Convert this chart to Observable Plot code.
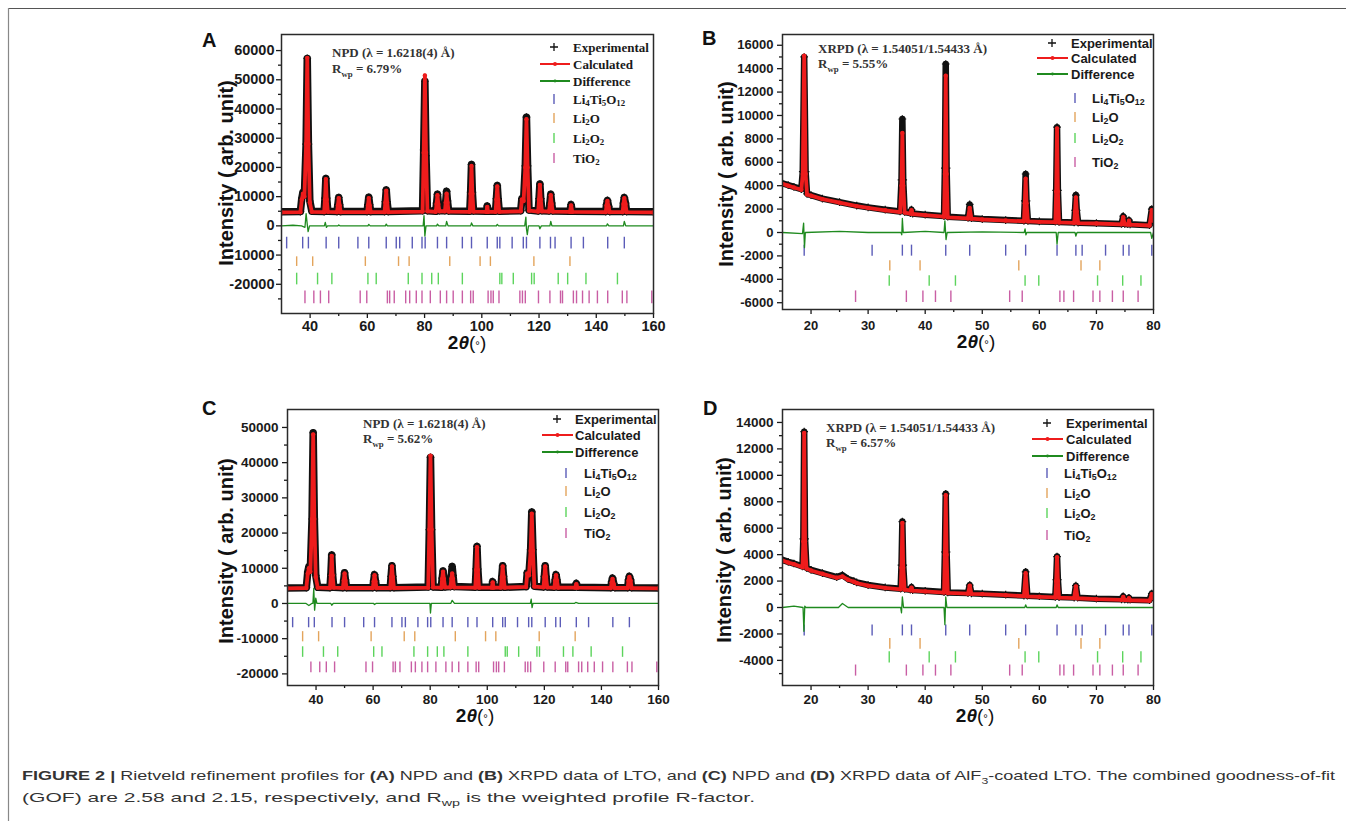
<!DOCTYPE html>
<html><head><meta charset="utf-8">
<script src="https://cdn.jsdelivr.net/npm/d3@7"></script>
<script src="https://cdn.jsdelivr.net/npm/@observablehq/plot@0.6"></script>
<style>
html,body{margin:0;padding:0;background:#fff;}
#fig{position:relative;width:1346px;height:821px;overflow:hidden;background:#fff;}
</style></head><body><div id="fig"></div>
<script>
// ---------- Bragg reflection positions (2θ, degrees) ----------
const npdLTO = [31.8, 37.4, 39.4, 45.6, 50.0, 56.7, 60.5, 66.6, 70.1, 71.3, 75.7, 79.1, 80.2, 84.5, 87.7, 93.2, 96.4, 101.9, 105.4, 106.3, 110.6, 114.5, 115.6, 120.3, 124.0, 125.6, 131.2, 135.5, 144.0, 149.8];
const npdLi2O = [35.3, 40.9, 59.3, 70.9, 74.6, 88.8, 99.4, 103.0, 118.2, 130.8];
const npdLi2O2 = [35.3, 42.6, 47.6, 60.2, 63.1, 74.3, 79.1, 82.5, 84.8, 93.2, 106.3, 107.0, 111.0, 117.4, 118.3, 126.7, 130.0, 136.4, 147.4];
const npdTiO2 = [38.2, 41.3, 43.6, 46.5, 57.5, 59.8, 67.0, 67.8, 69.4, 73.4, 74.8, 77.1, 79.1, 82.0, 85.5, 87.7, 90.0, 93.2, 96.1, 97.0, 102.2, 103.2, 104.0, 106.0, 113.3, 114.2, 115.2, 119.8, 123.8, 127.5, 128.2, 132.0, 133.1, 135.2, 137.5, 140.4, 144.0, 149.1, 150.7, 159.4];
const xrdLTO = [18.8, 30.7, 36.0, 37.6, 43.6, 47.8, 54.1, 57.6, 63.1, 66.4, 67.5, 71.6, 74.7, 75.7, 79.7];
const xrdLi2O = [33.8, 39.1, 56.4, 67.3, 70.6];
const xrdLi2O2 = [33.7, 40.7, 45.3, 57.5, 59.9, 70.2, 74.6, 77.8];
const xrdTiO2 = [27.8, 36.7, 39.6, 41.8, 44.5, 54.8, 57.0, 63.6, 64.3, 66.0, 69.4, 70.6, 72.8, 74.7, 77.3];

const phaseNames = ["Li4Ti5O12", "Li2O", "Li2O2", "TiO2"];
const phaseColors = ["#5b5cb8", "#e3a45c", "#5cd45c", "#c95ea4"];

// ---------- profiles: [2θ, calculated, experimental] ----------
const profileA = [
 [30,4600,4800],[36.6,4700,4900],[37.1,9000,9500],[37.5,11000,11500],[38.0,10000,10500],[38.6,28000,28000],[39.0,57500,57300],[39.4,28000,28000],[39.9,8000,8500],[40.6,4800,5000],
 [44.9,4700,4900],[45.2,9000,9500],[45.5,16000,16200],[45.8,9000,9500],[46.2,4800,5000],
 [49.4,4700,4900],[49.7,7000,7300],[50.0,9500,9700],[50.3,7000,7300],[50.7,4700,4900],
 [59.9,4700,4900],[60.2,7000,7300],[60.5,9500,9800],[60.8,7000,7300],[61.2,4700,4900],
 [66.0,4700,4900],[66.3,8000,8300],[66.6,12000,12300],[66.9,8000,8300],[67.3,4700,4900],
 [79.3,4900,5200],[79.7,25000,26000],[80.1,51500,49500],[80.5,25000,24000],[81.0,5000,5200],
 [83.9,4800,5000],[84.2,7500,7800],[84.5,10500,10800],[84.8,7500,7800],[85.2,5000,5200],
 [87.1,5000,5200],[87.4,8000,8500],[87.7,11000,11800],[88.0,8000,8500],[88.4,4900,5100],
 [95.8,4800,5000],[96.1,11000,11500],[96.4,20500,21000],[96.7,11000,11500],[97.1,4900,5100],
 [101.6,4800,5000],[101.9,6500,6800],[102.2,4800,5000],
 [104.8,4800,5000],[105.1,9000,9300],[105.4,13500,13800],[105.7,9000,9300],[106.1,4800,5000],
 [113.6,5000,5200],[114.0,9000,9300],[114.6,8500,8800],[115.2,20000,20500],[115.6,36500,37200],[116.0,20000,20500],[116.5,5200,5400],
 [119.7,4900,5100],[120.0,9000,9300],[120.3,14000,14300],[120.6,9000,9300],[121.0,5000,5200],
 [123.5,4900,5100],[123.8,7500,7800],[124.1,10500,10800],[124.4,7500,7800],[124.8,4900,5100],
 [130.8,4800,5000],[131.2,7000,7300],[131.6,4800,5000],
 [143.3,4700,4900],[143.6,7000,7300],[143.9,8500,8700],[144.3,6500,6700],[144.7,4700,4900],
 [149.2,4700,4900],[149.5,7500,7800],[149.8,9500,9700],[150.2,7500,7800],[150.6,4700,4900],[160,4600,4800]
];
const profileB = [
 [15,4150,4200],[16,4000,4050],[17,3850,3900],[18.3,3650,3700],[18.55,5000,5200],[18.8,15100,15000],[19.05,5000,5200],[19.3,3250,3300],
 [20,3150,3200],[22,2850,2900],[25,2550,2600],[28,2250,2300],[30,2100,2150],[33,1900,1950],
 [35.6,1750,1800],[35.85,4000,4500],[36.0,8500,9700],[36.15,4000,4500],[36.4,1700,1750],
 [37.4,1620,1650],[37.6,1900,1950],[37.8,1580,1620],[40,1480,1520],
 [43.3,1350,1400],[43.45,5000,5500],[43.6,13400,14400],[43.75,5000,5500],[43.95,1300,1350],
 [47.5,1200,1250],[47.8,2100,2400],[48.1,1180,1220],[50,1110,1150],[54.1,1020,1060],
 [57.3,960,1000],[57.45,2500,2700],[57.6,4600,5000],[57.75,2500,2700],[58.0,950,990],[60,910,950],
 [62.8,880,920],[62.95,3500,3600],[63.1,8900,9000],[63.25,3500,3600],[63.45,860,900],
 [66.1,820,860],[66.25,1800,1900],[66.4,3000,3200],[66.55,1800,1900],[66.8,800,840],[70,770,800],
 [74.4,700,730],[74.7,1300,1400],[74.95,700,730],[75.5,680,710],[75.7,1000,1050],[75.9,670,700],
 [79.3,600,630],[79.7,1900,2000],[80,1000,1100]
];
const profileC = [
 [30,4300,4400],[36.6,4400,4500],[37.1,8500,9000],[37.5,10000,10500],[38.0,9000,9500],[38.6,24000,24000],[39.0,48000,48500],[39.4,24000,24000],[39.9,7500,8000],[40.6,4500,4600],
 [44.9,4400,4500],[45.2,8000,8300],[45.5,13500,13800],[45.8,8000,8300],[46.2,4500,4600],
 [49.4,4400,4500],[49.7,6500,6700],[50.0,8500,8700],[50.3,6500,6700],[50.7,4400,4500],
 [59.9,4400,4500],[60.2,6300,6500],[60.5,8000,8200],[60.8,6300,6500],[61.2,4400,4500],
 [66.0,4400,4500],[66.3,7500,7700],[66.6,10500,10700],[66.9,7500,7700],[67.3,4400,4500],
 [79.3,4500,4700],[79.7,21000,21000],[80.1,42000,41500],[80.5,21000,21000],[81.0,4600,4700],
 [83.9,4500,4600],[84.2,7000,7200],[84.5,9000,9200],[84.8,7000,7200],[85.2,4600,4700],
 [87.1,4600,4800],[87.4,7000,8000],[87.7,8500,10500],[88.0,7000,8000],[88.4,4600,4800],
 [95.8,4500,4600],[96.1,9500,9800],[96.4,16000,16200],[96.7,9500,9800],[97.1,4500,4600],
 [101.6,4500,4600],[101.9,6000,6200],[102.2,4500,4600],
 [104.8,4500,4600],[105.1,7500,7700],[105.4,10500,10700],[105.7,7500,7700],[106.1,4500,4600],
 [113.6,4700,4800],[114.0,8500,8700],[114.6,8000,8200],[115.2,15000,15300],[115.6,25500,26000],[116.0,15000,15300],[116.5,4800,4900],
 [119.7,4600,4700],[120.0,7500,7700],[120.3,10500,10700],[120.6,7500,7700],[121.0,4600,4700],
 [123.5,4500,4600],[123.8,6500,6700],[124.1,8000,8200],[124.4,6500,6700],[124.8,4500,4600],
 [130.8,4500,4600],[131.2,5500,5700],[131.6,4500,4600],
 [143.3,4400,4500],[143.6,6000,6200],[143.9,7000,7200],[144.3,5500,5700],[144.7,4400,4500],
 [149.2,4400,4500],[149.5,6500,6700],[149.8,7500,7700],[150.2,6500,6700],[150.6,4400,4500],[160,4300,4400]
];
const profileD = [
 [15,3550,3600],[16,3400,3450],[17,3280,3330],[18.5,3050,3100],[18.65,5000,5200],[18.8,13200,13300],[18.95,5000,5200],[19.2,2950,3000],
 [20,2800,2850],[22,2550,2600],[24.5,2250,2300],[25.5,2350,2450],[26.5,2100,2150],[27.5,1950,2000],[28,1850,1900],[30,1650,1700],[33,1480,1520],
 [35.7,1380,1420],[35.85,3000,3200],[36.0,6400,6500],[36.15,3000,3200],[36.4,1350,1400],
 [37.4,1300,1350],[37.6,1500,1550],[37.8,1280,1320],[40,1220,1260],
 [43.3,1130,1170],[43.45,4000,4200],[43.6,8500,8600],[43.75,4000,4200],[43.95,1100,1140],
 [47.5,1050,1090],[47.8,1650,1700],[48.1,1030,1070],[50,1010,1050],[54.1,930,970],
 [57.3,860,900],[57.6,2600,2700],[57.9,850,890],[60,810,850],
 [62.8,760,800],[62.95,2000,2100],[63.1,3800,3850],[63.25,2000,2100],[63.45,750,790],
 [66.1,710,750],[66.4,1600,1650],[66.7,700,740],[70,630,670],
 [74.4,580,620],[74.7,800,850],[74.95,570,610],[75.5,560,600],[75.7,700,740],[75.9,550,590],
 [79.3,510,550],[79.7,1000,1050],[80,700,750]
];

// ---------- difference curves: [2θ, obs − calc] ----------
const diffA = [[30,0],[34,200],[37,0],[38.2,-500],[38.6,4200],[39.0,500],[39.3,-2000],[39.8,0],[45.0,0],[45.3,1200],[45.7,-500],[46.1,0],[49.7,0],[50,300],[50.4,0],[60.2,0],[60.5,500],[61,0],[66.3,0],[66.6,600],[67,0],[79.5,0],[79.8,3500],[80.1,-3500],[80.5,0],[84.2,0],[84.5,600],[85,0],[87.4,0],[87.7,1500],[88.2,0],[96.1,0],[96.4,1000],[96.9,0],[105.1,0],[105.4,500],[105.9,0],[115.0,0],[115.4,3000],[115.6,-1000],[115.9,-3000],[116.3,0],[120.0,0],[120.3,-1000],[120.8,0],[123.8,0],[124.1,1500],[124.5,0],[143.6,0],[143.9,700],[144.4,0],[149.5,0],[149.8,1500],[150.3,0],[160,0]];
const diffB = [[15,0],[18.5,-100],[18.7,800],[18.85,-1300],[19.0,0],[25,100],[30,0],[35.75,0],[35.9,-200],[36.0,1200],[36.15,0],[40,100],[43.3,0],[43.45,1000],[43.65,-600],[43.85,0],[50,50],[57.35,0],[57.5,300],[57.65,-200],[57.8,0],[62.95,0],[63.1,-1000],[63.3,0],[66.25,0],[66.4,-300],[66.6,0],[79.5,0],[79.7,-500],[80,0]];
const diffC = [[30,0],[36.5,0],[37.5,-600],[38.5,0],[38.9,0],[39.2,4300],[39.5,-1900],[39.9,1500],[40.3,0],[45.2,0],[45.5,-500],[46,0],[60.2,0],[60.5,-300],[61,0],[79.9,0],[80.1,-2700],[80.4,0],[87.2,0],[87.7,900],[88.5,0],[115.1,0],[115.4,1200],[115.7,-1200],[116,0],[130.5,0],[131,300],[132,0],[160,0]];
const diffD = [[15,0],[17,100],[18.6,0],[18.75,-1800],[18.9,100],[19.1,0],[24.8,0],[25.5,300],[26.5,0],[35.7,0],[35.85,-400],[36.0,800],[36.2,0],[43.3,0],[43.45,-1300],[43.6,800],[43.8,0],[57.45,0],[57.6,200],[57.8,0],[62.95,0],[63.1,200],[63.3,0],[80,0]];

// ---------- tick-row extents (y1, y2) per phase ----------
const rowsA = [[-3900,-7900],[-10600,-13900],[-16200,-20200],[-22300,-26700]];
const rowsB = [[-1080,-2020],[-2420,-3280],[-3700,-4590],[-4990,-5980]];
const rowsC = [[-4000,-6900],[-8000,-10900],[-12300,-15300],[-16600,-19700]];
const rowsD = [[-1320,-2150],[-2350,-3160],[-3340,-4200],[-4350,-5190]];

// ---------- axis ticks ----------
const npdXTicks = [40, 60, 80, 100, 120, 140, 160];
const npdXMinor = [50, 70, 90, 110, 130, 150];
const xrdXTicks = [20, 30, 40, 50, 60, 70, 80];
const xrdXMinor = [25, 35, 45, 55, 65, 75];
const yTicksA = [-20000, -10000, 0, 10000, 20000, 30000, 40000, 50000, 60000];
const yMinorA = [-25000, -15000, -5000, 5000, 15000, 25000, 35000, 45000, 55000];
const yTicksB = [-6000, -4000, -2000, 0, 2000, 4000, 6000, 8000, 10000, 12000, 14000, 16000];
const yMinorB = [-5000, -3000, -1000, 1000, 3000, 5000, 7000, 9000, 11000, 13000, 15000];
const yTicksC = [-20000, -10000, 0, 10000, 20000, 30000, 40000, 50000];
const yMinorC = [-15000, -5000, 5000, 15000, 25000, 35000, 45000];
const yTicksD = [-4000, -2000, 0, 2000, 4000, 6000, 8000, 10000, 12000, 14000];
const yMinorD = [-5000, -3000, -1000, 1000, 3000, 5000, 7000, 9000, 11000, 13000];

// ---------- texts ----------
const panelLetters = ["A", "B", "C", "D"];
const methodLabels = ["NPD (λ = 1.6218(4) Å)", "XRPD (λ = 1.54051/1.54433 Å)", "NPD (λ = 1.6218(4) Å)", "XRPD (λ = 1.54051/1.54433 Å)"];
const rwpValues = ["6.79%", "5.55%", "5.62%", "6.57%"];
const seriesNames = ["Experimental", "Calculated", "Difference"];
const yTitle = "Intensity ( arb. unit)";

const SANS = "'Liberation Sans', Arial, Helvetica, sans-serif";
const SERIF = "'Liberation Serif', 'Times New Roman', serif";
const fig = document.getElementById("fig");

function panel(cfg) {
  const mL = 80, mR = 12, mT = 6, mB = 42;
  const [fx0, fy0, fx1, fy1] = cfg.frame;
  const W = fx1 - fx0 + mL + mR, H = fy1 - fy0 + mT + mB;
  const pr = cfg.profile.map(d => ({x: d[0], calc: d[1], obs: d[2]}));
  const df = cfg.diff.map(d => ({x: d[0], y: d[1]}));
  const rowMarks = cfg.phases.map((pos, i) => Plot.ruleX(pos, {x: d => d, y1: cfg.rows[i][0], y2: cfg.rows[i][1], stroke: phaseColors[i], strokeWidth: 1.4}));
  const chart = Plot.plot({
    width: W, height: H, marginLeft: mL, marginRight: mR, marginTop: mT, marginBottom: mB,
    x: {domain: cfg.xDomain, label: null},
    y: {domain: cfg.yDomain, label: null},
    style: {fontFamily: SANS, fontSize: cfg.fs + "px", fontWeight: "bold", color: "#1a1a1a", background: "transparent", overflow: "visible"},
    marks: [
      ...rowMarks,
      Plot.line(df, {x: "x", y: "y", stroke: "#1f8a1f", strokeWidth: 1.3, clip: true}),
      Plot.line(pr, {x: "x", y: "obs", stroke: "#111", strokeWidth: cfg.bw, strokeLinejoin: "round", strokeLinecap: "round", clip: true}),
      Plot.dot(pr, {x: "x", y: "obs", symbol: "plus", r: 2.6, stroke: "#111", strokeWidth: 1.2, clip: true}),
      Plot.line(pr, {x: "x", y: "calc", stroke: "#ee1c1c", strokeWidth: 3.8, strokeLinejoin: "round", clip: true}),
      Plot.dot(pr, {x: "x", y: "calc", r: 2.2, fill: "#ee1c1c", clip: true}),
      Plot.axisX(cfg.xTicks, {tickSize: 5, tickPadding: cfg.xPad, strokeWidth: 1.3, tickFormat: d => String(d), label: null}),
      Plot.axisX(cfg.xMinor, {tickSize: 3, strokeWidth: 1.3, tickFormat: () => "", label: null}),
      Plot.axisY(cfg.yTicks, {tickSize: 5, tickPadding: cfg.yPad, strokeWidth: 1.3, tickFormat: d => String(d), label: null}),
      Plot.axisY(cfg.yMinor, {tickSize: 3, strokeWidth: 1.3, tickFormat: () => "", label: null}),
      Plot.frame({stroke: "#2a2a2a", strokeWidth: 1.5})
    ]
  });
  chart.style.position = "absolute";
  chart.style.left = (fx0 - mL) + "px";
  chart.style.top = (fy0 - mT) + "px";
  fig.appendChild(chart);
}

panel({frame: [281, 34, 653, 313], xDomain: [30, 160], yDomain: [-30000, 65500], xTicks: npdXTicks, xMinor: npdXMinor, yTicks: yTicksA, yMinor: yMinorA,
  profile: profileA, diff: diffA, rows: rowsA, phases: [npdLTO, npdLi2O, npdLi2O2, npdTiO2], fs: 14.5, xPad: 2, yPad: 2, bw: 7.5});
panel({frame: [782, 34, 1153, 309], xDomain: [15, 80], yDomain: [-6580, 16920], xTicks: xrdXTicks, xMinor: xrdXMinor, yTicks: yTicksB, yMinor: yMinorB,
  profile: profileB, diff: diffB, rows: rowsB, phases: [xrdLTO, xrdLi2O, xrdLi2O2, xrdTiO2], fs: 13, xPad: 6, yPad: 4, bw: 6.5});
panel({frame: [287, 409, 658, 685], xDomain: [30, 160], yDomain: [-23300, 55100], xTicks: npdXTicks, xMinor: npdXMinor, yTicks: yTicksC, yMinor: yMinorC,
  profile: profileC, diff: diffC, rows: rowsC, phases: [npdLTO, npdLi2O, npdLi2O2, npdTiO2], fs: 13.5, xPad: 4, yPad: 4, bw: 7.5});
panel({frame: [782, 409, 1153, 685], xDomain: [15, 80], yDomain: [-5900, 14980], xTicks: xrdXTicks, xMinor: xrdXMinor, yTicks: yTicksD, yMinor: yMinorD,
  profile: profileD, diff: diffD, rows: rowsD, phases: [xrdLTO, xrdLi2O, xrdLi2O2, xrdTiO2], fs: 13.5, xPad: 4, yPad: 4, bw: 6.5});

// ---------- overlay: letters, annotations, legends, titles, caption ----------
const ov = d3.select(fig).append("svg").attr("width", 1346).attr("height", 821)
  .style("position", "absolute").style("left", "0px").style("top", "0px").style("pointer-events", "none");

ov.append("line").attr("x1", 8).attr("y1", 8.5).attr("x2", 1346).attr("y2", 8.5).attr("stroke", "#555").attr("stroke-width", 1.2);
ov.append("line").attr("x1", 8.5).attr("y1", 8).attr("x2", 8.5).attr("y2", 821).attr("stroke", "#888").attr("stroke-width", 1.2);

// parts: [text, mode] where mode in "", "sub", "b", "i", "n", "small"
function rich(parent, x, y, parts, attrs, fs) {
  const t = parent.append("text").attr("x", x).attr("y", y);
  for (const k in attrs) t.attr(k, attrs[k]);
  let off = 0;
  parts.forEach(([s, mode]) => {
    const ts = t.append("tspan").text(s);
    const target = mode === "sub" ? fs * 0.32 : 0;
    if (target !== off) { ts.attr("dy", target - off); off = target; }
    if (mode === "sub") ts.attr("font-size", fs * 0.68);
    if (mode === "b") ts.attr("font-weight", "bold");
    if (mode === "n") ts.attr("font-weight", "normal");
    if (mode === "i") ts.attr("font-style", "italic");
    if (mode === "small") ts.attr("font-size", fs * 0.6).attr("font-weight", "normal");
  });
  return t;
}
function formula(s) { return s.split(/(\d+)/).filter(p => p !== "").map(p => /^\d+$/.test(p) ? [p, "sub"] : [p, ""]); }

const layout = [
  {letter: [202, 47], yT: [226, 173], xT: [467, 349], ann: [332, 57, 73], serif: true,
   leg: {plusX: 554, textX: 573, line: [540, 570], tickX: 554, phaseX: 573, ys: [47, 64, 81, 99, 118, 138, 158]}},
  {letter: [702, 45], yT: [726, 174], xT: [976, 348], ann: [818, 53, 68], serif: false,
   leg: {plusX: 1052, textX: 1071, line: [1037, 1068], tickX: 1075, phaseX: 1092, ys: [43, 58, 74, 98, 117, 138, 162]}},
  {letter: [202, 415], yT: [226, 551], xT: [475, 722], ann: [363, 428, 443], serif: false,
   leg: {plusX: 557, textX: 575, line: [542, 573], tickX: 566, phaseX: 584, ys: [419, 435, 452, 473, 491, 512, 533]}},
  {letter: [703, 415], yT: [724, 550], xT: [975, 722], ann: [826, 432, 447], serif: false,
   leg: {plusX: 1047, textX: 1066, line: [1032, 1063], tickX: 1047, phaseX: 1064, ys: [423, 439, 456, 473, 493, 513, 535]}}
];

layout.forEach((L, i) => {
  const g = ov.append("g");
  g.append("text").attr("x", L.letter[0]).attr("y", L.letter[1]).text(panelLetters[i])
    .attr("font-family", SANS).attr("font-weight", "bold").attr("font-size", 20).attr("fill", "#111");
  g.append("text").attr("transform", `translate(${L.yT[0]},${L.yT[1]}) rotate(-90)`).attr("text-anchor", "middle")
    .attr("dominant-baseline", "central").attr("font-family", SANS).attr("font-weight", "bold").attr("font-size", 20).attr("fill", "#111").text(yTitle);
  rich(g, L.xT[0], L.xT[1], [["2", "b"], ["θ", "i"], ["(", "n"], ["°", "small"], [")", "n"]],
    {"text-anchor": "middle", "font-family": SANS, "font-size": 19, "font-weight": "bold", "fill": "#111"}, 19);
  // annotation
  const af = {"font-family": SERIF, "font-weight": "bold", "font-size": 13, "fill": "#333"};
  rich(g, L.ann[0], L.ann[1], [[methodLabels[i], ""]], af, 13);
  rich(g, L.ann[0], L.ann[2], [["R", ""], ["wp", "sub"], [" = " + rwpValues[i], ""]], af, 13);
  // legend
  const lf = {"font-family": L.serif ? SERIF : SANS, "font-weight": "bold", "font-size": 13, "fill": "#1a1a1a", "dominant-baseline": "central"};
  const lg = L.leg, ys = lg.ys;
  g.append("path").attr("d", `M${lg.plusX - 4},${ys[0]}h8M${lg.plusX},${ys[0] - 4}v8`).attr("stroke", "#111").attr("stroke-width", 1.3).attr("fill", "none");
  g.append("line").attr("x1", lg.line[0]).attr("x2", lg.line[1]).attr("y1", ys[1]).attr("y2", ys[1]).attr("stroke", "#ee1c1c").attr("stroke-width", 2);
  g.append("circle").attr("cx", (lg.line[0] + lg.line[1]) / 2).attr("cy", ys[1]).attr("r", 2).attr("fill", "#ee1c1c");
  g.append("line").attr("x1", lg.line[0]).attr("x2", lg.line[1]).attr("y1", ys[2]).attr("y2", ys[2]).attr("stroke", "#1f8a1f").attr("stroke-width", 2);
  g.append("circle").attr("cx", (lg.line[0] + lg.line[1]) / 2).attr("cy", ys[2]).attr("r", 1.4).attr("fill", "#1f8a1f");
  seriesNames.forEach((s, k) => rich(g, lg.textX, ys[k], [[s, ""]], lf, 13));
  phaseNames.forEach((p, k) => {
    const y = ys[3 + k];
    g.append("line").attr("x1", lg.tickX).attr("x2", lg.tickX).attr("y1", y - 5).attr("y2", y + 5).attr("stroke", phaseColors[k]).attr("stroke-width", 1.4);
    rich(g, lg.phaseX, y, formula(p), lf, 13);
  });
});

// caption
const cf = {"font-family": SANS, "font-size": 13.5, "fill": "#333"};
const c1 = rich(ov, 22, 780, [["FIGURE 2 | ", "b"], ["Rietveld refinement profiles for ", ""], ["(A)", "b"], [" NPD and ", ""], ["(B)", "b"], [" XRPD data of LTO, and ", ""], ["(C)", "b"], [" NPD and ", ""], ["(D)", "b"], [" XRPD data of AlF", ""], ["3", "sub"], ["-coated LTO. The combined goodness-of-fit", ""]], cf, 13.5);
const c2 = rich(ov, 22, 802, [["(GOF) are 2.58 and 2.15, respectively, and R", ""], ["wp", "sub"], [" is the weighted profile R-factor.", ""]], cf, 13.5);
c1.node().setAttribute("textLength", "1313"); c1.node().setAttribute("lengthAdjust", "spacingAndGlyphs");
c2.node().setAttribute("textLength", "733"); c2.node().setAttribute("lengthAdjust", "spacingAndGlyphs");
</script>
</body></html>
